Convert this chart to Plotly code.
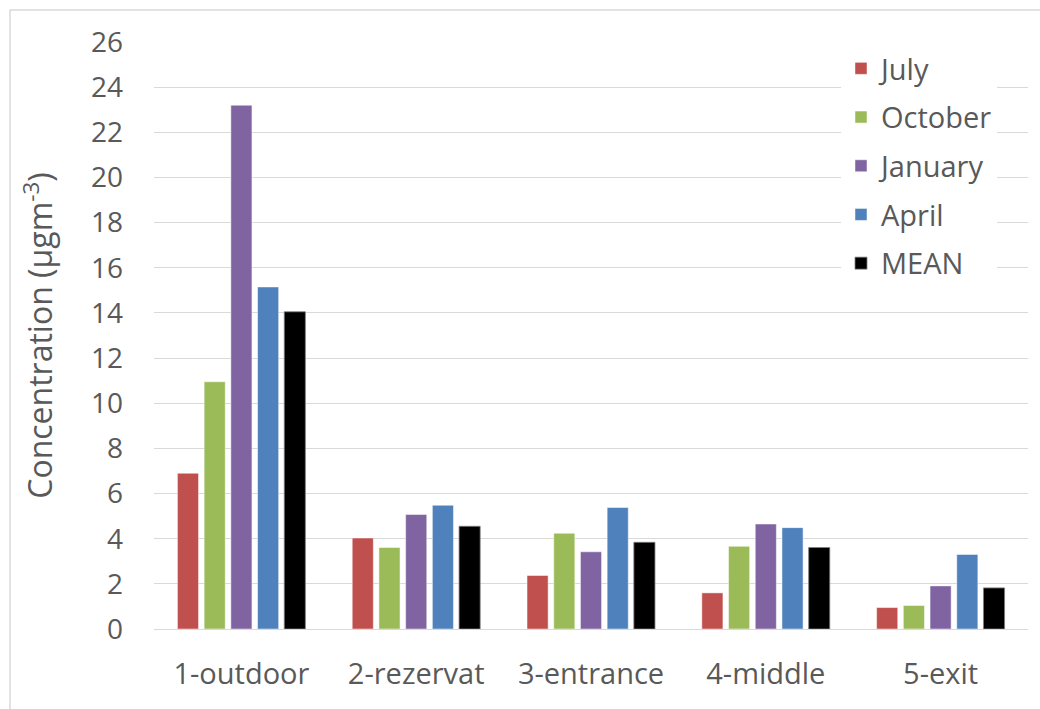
import plotly.graph_objects as go

categories = ["1-outdoor", "2-rezervat", "3-entrance", "4-middle", "5-exit"]
july = [6.9, 4.03, 2.37, 1.6, 0.95]
october = [10.95, 3.61, 4.24, 3.66, 1.04]
january = [23.2, 5.07, 3.42, 4.65, 1.91]
april = [15.15, 5.48, 5.38, 4.49, 3.30]
mean = [14.05, 4.55, 3.84, 3.61, 1.82]
y_ticks = list(range(0, 27, 2))

series = [
    ("July", july, "#C0504D"),
    ("October", october, "#9BBB59"),
    ("January", january, "#8064A2"),
    ("April", april, "#4F81BD"),
    ("MEAN", mean, "#000000"),
]

FONT = "Open Sans"
TXT = "#595959"

fig = go.Figure()
for name, vals, col in series:
    fig.add_trace(go.Bar(
        x=categories, y=vals, name=name, legendgroup=name,
        marker=dict(color=col, line=dict(color="rgba(255,255,255,0.6)" if col != "#000000" else "#7f7f7f", width=0.8)),
    ))

L, R, T, B = 154, 12, 42, 80
W, H = 1040, 709
pw = W - L - R
ph = H - T - B

def px(x):
    return (x - L) / pw

def py(y):
    return (H - B - y) / ph

fig.update_layout(
    width=W, height=H,
    margin=dict(l=L, r=R, t=T, b=B, pad=0),
    paper_bgcolor="white", plot_bgcolor="white",
    barmode="group", bargap=0.236, bargroupgap=0.21,
    font=dict(family=FONT, color=TXT, size=28),
    legend=dict(
        x=px(841), y=py(43), xanchor="left", yanchor="top",
        bgcolor="white", font=dict(size=29, color=TXT, family=FONT),
        tracegroupgap=8, traceorder="grouped",
    ),
    xaxis=dict(
        showgrid=False, showline=False, ticks="",
        tickfont=dict(size=29, color=TXT, family=FONT),
        ticklabelstandoff=25,
    ),
    yaxis=dict(
        range=[0, 26], tickvals=y_ticks, ticktext=[str(v) for v in y_ticks],
        showgrid=True, gridcolor="#D9D9D9", gridwidth=1,
        zeroline=True, zerolinecolor="#D9D9D9", zerolinewidth=1,
        showline=False, ticks="",
        tickfont=dict(size=28, color=TXT, family=FONT),
        ticklabelstandoff=30,
        title=dict(text="Concentration (µgm<sup>-3</sup>)", font=dict(size=32, color=TXT, family=FONT), standoff=28),
    ),
    shapes=[dict(
        type="rect", xref="paper", yref="paper",
        x0=px(10), x1=px(1060), y0=py(730), y1=py(10),
        line=dict(color="#D9D9D9", width=1.5), fillcolor="rgba(0,0,0,0)", layer="below",
    )],
)

fig.write_html("out.html")
